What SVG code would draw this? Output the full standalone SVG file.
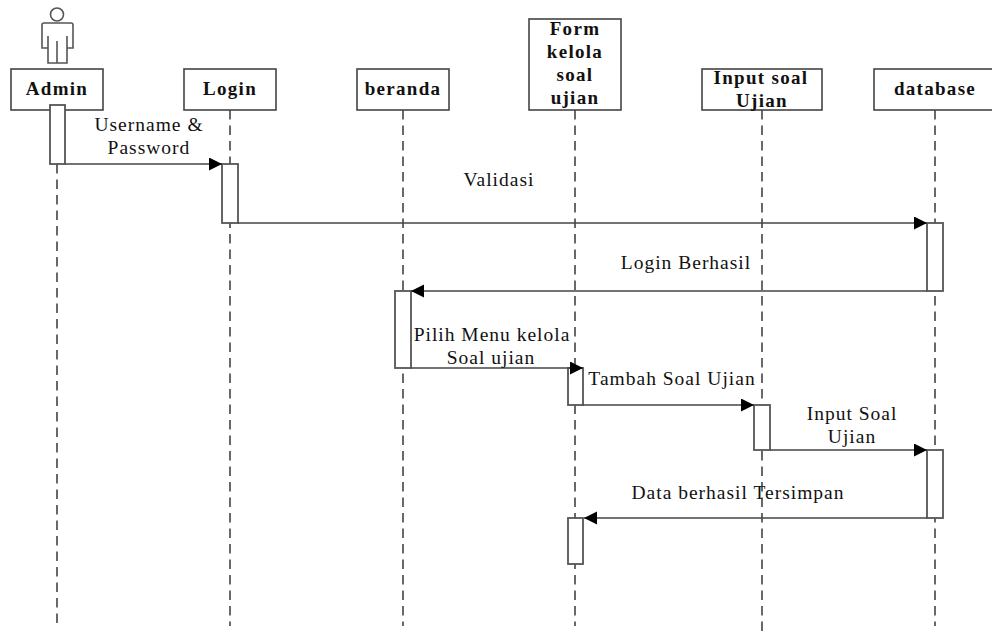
<svg xmlns="http://www.w3.org/2000/svg" width="992" height="635" viewBox="0 0 992 635">
<style>
text{font-family:"Liberation Serif","Times New Roman",serif;font-size:19.500px;fill:#111;text-anchor:middle;letter-spacing:1px}
.h text{font-weight:bold;font-size:19px;letter-spacing:1.3px}
.box{fill:#fff;stroke:#444;stroke-width:1.6}
.act{fill:#fff;stroke:#555;stroke-width:1.8}
.life{fill:none;stroke:#444;stroke-width:1.6;stroke-dasharray:9.500 6}
.msg{fill:none;stroke:#444;stroke-width:1.6;marker-end:url(#a)}
.act-fig{fill:#fff;stroke:#555;stroke-width:1.6}
</style>
<defs><marker id="a" markerUnits="userSpaceOnUse" markerWidth="14" markerHeight="14" refX="13" refY="6.5" orient="auto"><path d="M0 0L13 6.5L0 13Z" fill="#000"/></marker></defs>
<rect width="992" height="635" fill="#fff"/>
<g id="lifelines">
<path class="life" d="M57 164V626"/>
<path class="life" d="M230 110V626"/>
<path class="life" d="M403 110V626"/>
<path class="life" d="M575 110V626"/>
<path class="life" d="M762 110V636"/>
<path class="life" d="M935 110V626"/>
</g>
<g id="admin" class="h">
<circle class="act-fig" cx="57" cy="14.500" r="6.500"/>
<path class="act-fig" d="M44 23H71Q73 23 73 25V48H67V63H48V48H42V25Q42 23 44 23ZM48 36V48M67 36V48M57 41V63"/>
<rect class="box" x="11" y="69" width="92" height="41"/>
<text x="57" y="95">Admin</text>
</g>
<g id="login" class="h"><rect class="box" x="184" y="69" width="92" height="41"/><text x="230" y="95">Login</text></g>
<g id="beranda" class="h"><rect class="box" x="357" y="69" width="92" height="41"/><text x="403" y="95">beranda</text></g>
<g id="form" class="h"><rect class="box" x="529" y="19" width="92" height="91"/>
<text x="575" y="35">Form</text><text x="575" y="58">kelola</text><text x="575" y="81">soal</text><text x="575" y="104">ujian</text></g>
<g id="input" class="h"><rect class="box" x="702" y="69" width="120" height="41"/>
<text x="761" y="84">Input soal</text><text x="762" y="107">Ujian</text></g>
<g id="database" class="h"><rect class="box" x="874" y="69" width="125" height="41"/><text x="935" y="95">database</text></g>
<g id="activations">
<rect class="act" x="50" y="105" width="15" height="59"/>
<rect class="act" x="222" y="164" width="16" height="59"/>
<rect class="act" x="395" y="291" width="16" height="77"/>
<rect class="act" x="568" y="368" width="15" height="37"/>
<rect class="act" x="568" y="518" width="15" height="46"/>
<rect class="act" x="754" y="405" width="16" height="45"/>
<rect class="act" x="927" y="223" width="16" height="68"/>
<rect class="act" x="927" y="450" width="16" height="68"/>
</g>
<g id="connectors">
<path class="msg" d="M65 164H222"/>
<path class="msg" d="M238 223H927"/>
<path class="msg" d="M927 291H411"/>
<path class="msg" d="M411 368H583"/>
<path class="msg" d="M583 405H754"/>
<path class="msg" d="M770 450H927"/>
<path class="msg" d="M927 518H584"/>
</g>
<g id="labels">
<text x="149" y="131">Username &amp;</text><text x="149" y="154">Password</text>
<text x="499" y="186">Validasi</text>
<text x="686" y="269">Login Berhasil</text>
<text x="492" y="341">Pilih Menu kelola</text><text x="491" y="364">Soal ujian</text>
<text x="672" y="385">Tambah Soal Ujian</text>
<text x="852" y="420">Input Soal</text><text x="852" y="443">Ujian</text>
<text x="738" y="499">Data berhasil Tersimpan</text>
</g>
</svg>
